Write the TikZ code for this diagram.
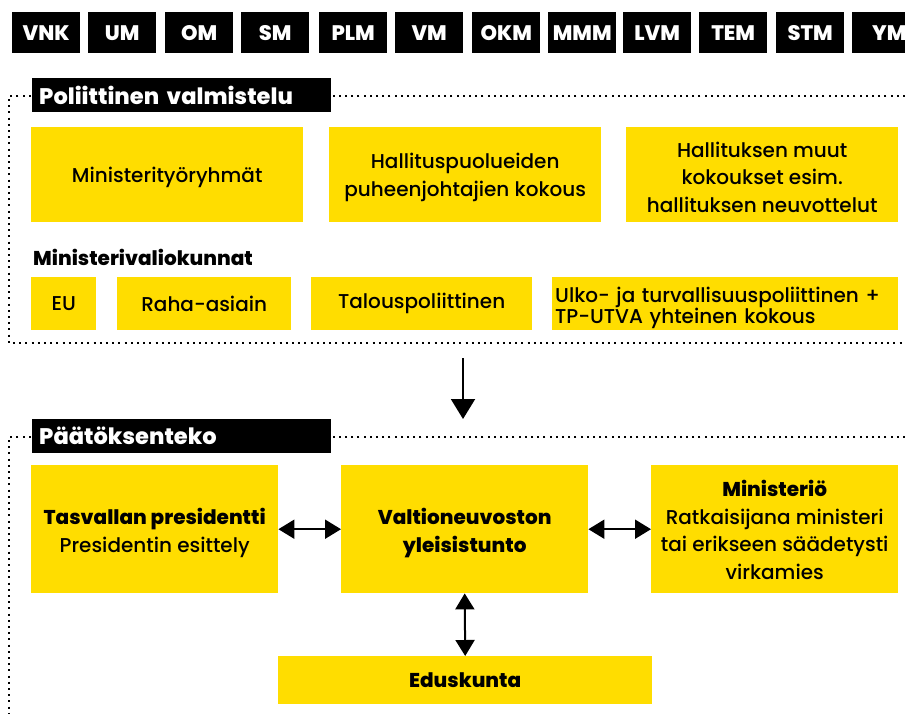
\documentclass[tikz,border=0pt]{standalone}
\usepackage{fontspec}
\setmainfont{Poppins}[UprightFont={* Medium}, BoldFont={* ExtraBold}]
\usetikzlibrary{arrows.meta}
\definecolor{vyellow}{HTML}{FFDD00}
% invisible strut that pushes a centred text block a little lower
\newcommand{\topgap}[1]{\rule{0pt}{#1}}
\tikzset{
  minbox/.style={fill=black, text=white, font=\fontsize{21}{21}\selectfont\bfseries, inner sep=0pt, minimum width=68pt, minimum height=41pt, anchor=north west},
  headbox/.style={fill=black, text=white, font=\fontsize{22.5}{22.5}\selectfont\bfseries, inner sep=0pt, inner xsep=7pt, minimum width=299pt, minimum height=34pt, anchor=north west, text width=285pt, align=left},
  ybox/.style={fill=vyellow, text=black, font=\fontsize{20}{27.5}\selectfont, inner sep=0pt, anchor=north west, align=center},
  dotline/.style={line width=2pt, dash pattern=on 2pt off 4.2pt},
  conn/.style={line width=2pt, -{Triangle[length=20pt,width=24pt]}},
  dconn/.style={line width=2pt, {Triangle[length=16pt,width=19pt]}-{Triangle[length=16pt,width=19pt]}},
}
\begin{document}
\begin{tikzpicture}[x=1pt,y=-1pt]
\useasboundingbox (0,0) rectangle (905,713);
\fill[white] (0,0) rectangle (905,713);
\begin{scope}
\clip (0,0) rectangle (905,713);
% ministries
\node[minbox] (vnk) at (12,12) {VNK};
\node[minbox] (um) at (88,12) {UM};
\node[minbox] (om) at (165,12) {OM};
\node[minbox] (sm) at (241,12) {SM};
\node[minbox] (plm) at (319,12) {PLM};
\node[minbox] (vm) at (395,12) {VM};
\node[minbox] (okm) at (472,12) {OKM};
\node[minbox] (mmm) at (548,12) {MMM};
\node[minbox] (lvm) at (623,12) {LVM};
\node[minbox] (tem) at (699,12) {TEM};
\node[minbox] (stm) at (776,12) {STM};
\node[minbox, minimum width=88pt] (ym) at (852,12) {YM\hspace*{14pt}};

% political preparation frame
\draw[dotline] (905,96) -- (9,96) -- (9,343) -- (905,343);
\node[headbox] (pv) at (32,78) {Poliittinen valmistelu};

\node[ybox, minimum width=272pt, minimum height=95pt] (mtr) at (31,127) {\topgap{21pt}Ministerityöryhmät};
\node[ybox, minimum width=272pt, minimum height=95pt] (hpk) at (329,127) {\topgap{21pt}Hallituspuolueiden\\puheenjohtajien kokous};
\node[ybox, minimum width=272pt, minimum height=95pt] (hmk) at (626,127) {\topgap{20pt}Hallituksen muut\\kokoukset esim.\\hallituksen neuvottelut};

\node[anchor=west, inner sep=0pt, font=\fontsize{20}{24}\selectfont\bfseries] (mvk) at (33,257) {Ministerivaliokunnat};

\node[ybox, minimum width=65pt, minimum height=53pt] (eu) at (31,277) {EU};
\node[ybox, minimum width=174pt, minimum height=53pt] (raha) at (117,277) {Raha-asiain};
\node[ybox, minimum width=221pt, minimum height=53pt] (talo) at (311,277) {Talouspoliittinen};
\node[ybox, minimum width=346pt, minimum height=53pt, align=left, text width=340pt, inner xsep=3pt, font=\fontsize{20}{21}\selectfont] (ulko) at (552,277) {\topgap{23pt}Ulko- ja turvallisuuspoliittinen +\\TP-UTVA yhteinen kokous};

% arrow between phases
\coordinate (astart) at (463,358);
\coordinate (aend) at (463,419);
\draw[conn] (astart) -- (aend);

% decision-making frame
\draw[dotline] (905,437) -- (9,437) -- (9,713);
\node[headbox] (pt) at (32,419) {Päätöksenteko};

\node[ybox, minimum width=247pt, minimum height=128pt] (tp) at (31,465) {\topgap{24pt}\textbf{Tasvallan presidentti}\\Presidentin esittely};
\node[ybox, minimum width=247pt, minimum height=128pt] (vny) at (341,465) {\topgap{24pt}\textbf{Valtioneuvoston}\\\textbf{yleisistunto}};
\node[ybox, minimum width=247pt, minimum height=128pt] (min) at (651,465) {\topgap{18pt}\textbf{Ministeriö}\\Ratkaisijana ministeri\\tai erikseen säädetysti\\virkamies};
\node[ybox, minimum width=374pt, minimum height=48pt, font=\fontsize{20}{24}\selectfont\bfseries] (edk) at (278,656) {Eduskunta};

\draw[dconn] (tp.east) -- (vny.west);
\draw[dconn] (vny.east) -- (min.west);
\draw[dconn] (vny.south) -- (edk.north);
\end{scope}
\end{tikzpicture}
\end{document}
